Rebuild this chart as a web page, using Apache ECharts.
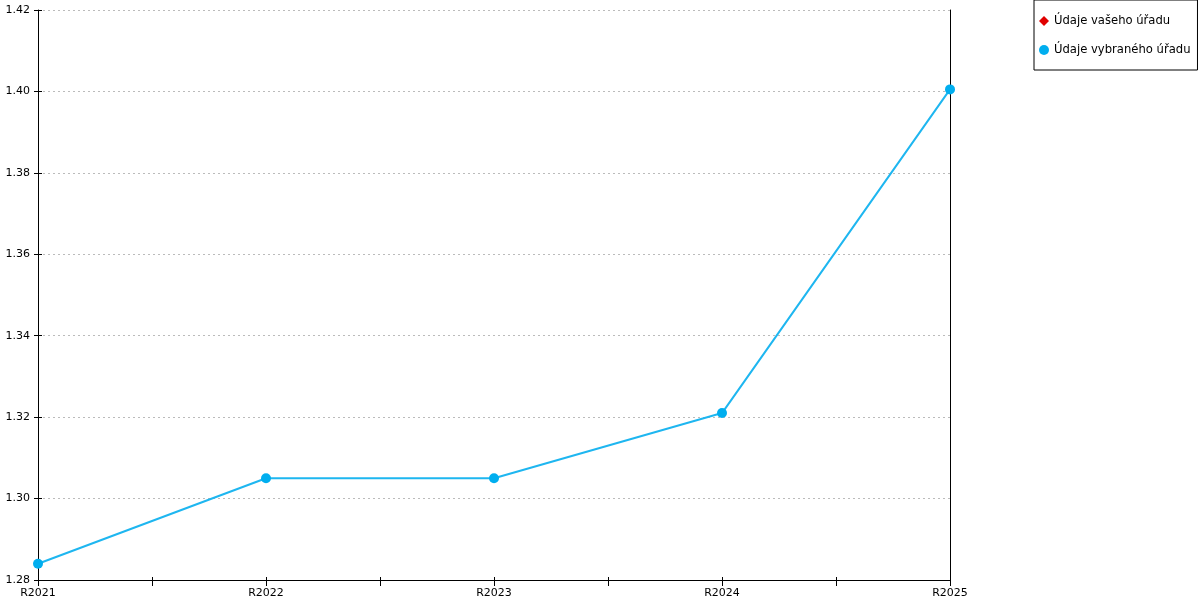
<!DOCTYPE html>
<html><head><meta charset="utf-8">
<script src="https://cdn.jsdelivr.net/npm/echarts@6/dist/echarts.min.js"></script>
<style>html,body{margin:0;padding:0;background:#fff}#c{width:1200px;height:600px}</style>
</head><body><div id="c"></div>
<script>
var categories = ['R2021','R2022','R2023','R2024','R2025'];
var tickSlots = ['','','','','','','','',''];
var seriesNames = ['Údaje vašeho úřadu','Údaje vybraného úřadu'];
var ownOffice = [];
var selectedOffice = [1.284, 1.305, 1.305, 1.321, 1.4005];
var yMin = 1.28, yMax = 1.42, yStep = 0.02;

var font = 'DejaVu Sans';
var chart = echarts.init(document.getElementById('c'));
chart.setOption({
  animation:false,
  textStyle:{fontFamily:font},
  grid:{left:38,right:250,top:10,bottom:20,containLabel:false},
  legend:{
    orient:'vertical',left:1034,top:0,
    padding:[15,7,14,5],itemGap:17,itemWidth:10,itemHeight:10,
    borderColor:'#000',borderWidth:1,backgroundColor:'#fff',
    textStyle:{fontFamily:font,fontSize:11.6,color:'#000'},
    data:[{name:seriesNames[0],icon:'diamond'},{name:seriesNames[1],icon:'circle'}]
  },
  xAxis:[
    {type:'category',data:categories,boundaryGap:false,
     axisLine:{lineStyle:{color:'#000',width:1}},axisTick:{show:false},
     axisLabel:{color:'#000',fontSize:11,fontFamily:font,margin:8},splitLine:{show:false}},
    {type:'category',data:tickSlots,boundaryGap:false,position:'bottom',
     axisLine:{show:false},axisTick:{show:true,inside:false,length:6,lineStyle:{color:'#000'}},
     axisLabel:{show:false},splitLine:{show:false}},
    {type:'category',data:tickSlots,boundaryGap:false,position:'bottom',
     axisLine:{show:false},axisTick:{show:true,inside:true,length:3,lineStyle:{color:'#000'}},
     axisLabel:{show:false},splitLine:{show:false}}
  ],
  yAxis:[
    {type:'value',min:yMin,max:yMax,interval:yStep,
     axisLine:{show:true,lineStyle:{color:'#000'}},
     axisTick:{show:true,inside:false,length:4,lineStyle:{color:'#000'}},
     axisLabel:{color:'#000',fontSize:11,fontFamily:font,margin:8,formatter:function(v){return v.toFixed(2);}},
     splitLine:{show:true,lineStyle:{color:'#bbb',type:[2,3]}}},
    {type:'value',min:yMin,max:yMax,interval:yStep,position:'left',
     axisLine:{show:false},axisTick:{show:true,inside:true,length:4,lineStyle:{color:'#000'}},
     axisLabel:{show:false},splitLine:{show:false}},
    {type:'value',min:yMin,max:yMax,interval:yStep,position:'right',
     axisLine:{show:true,lineStyle:{color:'#000'}},axisTick:{show:false},
     axisLabel:{show:false},splitLine:{show:false}}
  ],
  series:[
    {name:seriesNames[0],type:'line',data:ownOffice,symbol:'diamond',symbolSize:10,
     itemStyle:{color:'#e00000'},lineStyle:{color:'#e00000'}},
    {name:seriesNames[1],type:'line',data:selectedOffice,symbol:'circle',symbolSize:10,
     showAllSymbol:true,
     itemStyle:{color:'#00aeef'},lineStyle:{color:'#1eb6f0',width:2}}
  ]
});
</script></body></html>
